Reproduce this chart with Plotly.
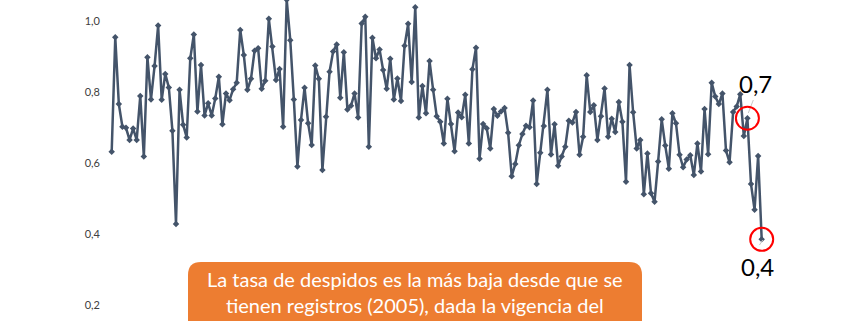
import plotly.graph_objects as go
import pandas as pd

# monthly dismissal rate (%), Apr 2005 - Jun 2020
months = [d.strftime("%b %Y") for d in pd.date_range("2005-04-01", periods=183, freq="MS")]
rate = [
    0.632, 0.954, 0.766, 0.702, 0.699, 0.665, 0.697, 0.665, 0.789, 0.618, 0.898, 0.779, 0.873, 0.987, 0.778, 0.851,
    0.813, 0.691, 0.428, 0.806, 0.708, 0.672, 0.895, 0.962, 0.745, 0.876, 0.734, 0.768, 0.734, 0.782, 0.843,
    0.709, 0.796, 0.777, 0.808, 0.826, 0.975, 0.904, 0.806, 0.837, 0.916, 0.923, 0.809, 0.832, 1.006, 0.928, 0.834,
    0.865, 0.702, 1.060, 0.946, 0.779, 0.590, 0.721, 0.812, 0.712, 0.651, 0.875, 0.837, 0.580, 0.730, 0.857, 0.914,
    0.934, 0.784, 0.912, 0.751,
    0.761, 0.796, 0.728, 0.993, 1.012, 0.646, 0.953, 0.895, 0.920, 0.862, 0.809, 0.894, 0.779, 0.838, 0.775, 0.930,
    0.992, 0.828, 1.039, 0.728, 0.817, 0.740, 0.887, 0.806, 0.732, 0.716, 0.655, 0.781, 0.710, 0.633, 0.742, 0.729,
    0.792, 0.655, 0.864, 0.925, 0.612,
    0.710, 0.698, 0.641, 0.752, 0.733, 0.745, 0.755, 0.685, 0.563, 0.597, 0.650, 0.682, 0.705, 0.701, 0.776, 0.541,
    0.629, 0.704, 0.806, 0.624, 0.709, 0.592, 0.618, 0.646, 0.719, 0.714, 0.744, 0.623, 0.674, 0.847, 0.744, 0.763,
    0.665, 0.732, 0.810, 0.674,
    0.725, 0.687, 0.772, 0.716, 0.547, 0.876, 0.743, 0.641, 0.665, 0.512, 0.627, 0.515, 0.491, 0.604, 0.723, 0.649,
    0.584, 0.740, 0.712, 0.623, 0.588, 0.610, 0.622, 0.566, 0.655, 0.576, 0.752, 0.625, 0.826, 0.787, 0.766, 0.796,
    0.635, 0.602, 0.744, 0.759, 0.794, 0.676, 0.726, 0.541, 0.468, 0.620, 0.385,
]
highlight_idx = [178, 182]
highlight_labels = ["0,7", "0,4"]
y_ticks = [0.2, 0.4, 0.6, 0.8, 1.0]
note_text = "La tasa de despidos es la más baja desde que se<br>tienen registros (2005), dada la vigencia del"

W, H = 845, 321
L, R, T, B = 105, 0, 0, 0
PW, PH = W - L - R, H - T - B


def px(x):
    return (x - L) / PW


def py(y):
    return (H - B - y) / PH


fig = go.Figure()
fig.add_trace(go.Scatter(
    x=months, y=rate, mode="lines+markers",
    line=dict(color="#44546A", width=2.5),
    marker=dict(symbol="diamond", size=5, color="#44546A"),
    cliponaxis=True, hoverinfo="x+y",
))

shapes = []
# faint leader lines from labels to points
for (xa, ya, xb, yb) in [(753.3, 100, 748.3, 113), (762.7, 240, 759.5, 245)]:
    shapes.append(dict(type="line", xref="paper", yref="paper", x0=px(xa), y0=py(ya), x1=px(xb), y1=py(yb),
                       line=dict(color="#C8C8C8", width=1)))
# highlight circles around data points
for i in highlight_idx:
    shapes.append(dict(type="circle", xref="x", yref="y", xsizemode="pixel", ysizemode="pixel",
                       xanchor=i, yanchor=rate[i], x0=-11.5, x1=11.5, y0=-11.5, y1=11.5,
                       line=dict(color="#FF0000", width=2)))

# orange rounded box
bx0, bx1, by0, by1, r = 188, 642, 262, 360, 13
path = (f"M {px(bx0)},{py(by0 + r)} Q {px(bx0)},{py(by0)} {px(bx0 + r)},{py(by0)} "
        f"L {px(bx1 - r)},{py(by0)} Q {px(bx1)},{py(by0)} {px(bx1)},{py(by0 + r)} "
        f"L {px(bx1)},{py(by1)} L {px(bx0)},{py(by1)} Z")
shapes.append(dict(type="path", xref="paper", yref="paper", path=path,
                   fillcolor="#ED7D31", line=dict(width=0), layer="above"))

annotations = [
    dict(text=note_text, xref="paper", yref="paper", x=px(415), y=py(265), xanchor="center", yanchor="top",
         showarrow=False, align="center", font=dict(family="Lato", size=20, color="white")),
    dict(text=highlight_labels[0], xref="paper", yref="paper", x=px(755), y=py(83), xanchor="center",
         yanchor="middle", showarrow=False, font=dict(family="Lato", size=24, color="#000000")),
    dict(text=highlight_labels[1], xref="paper", yref="paper", x=px(757.5), y=py(266), xanchor="center",
         yanchor="middle", showarrow=False, font=dict(family="Lato", size=24, color="#000000")),
]

y_top = 1 + 21 / 355
y_bot = 1 - 300 / 355
scale = 650 / 182
xmin = -6.7 / scale
xmax = xmin + PW / scale

fig.update_layout(
    width=W, height=H, margin=dict(l=L, r=R, t=T, b=B),
    paper_bgcolor="white", plot_bgcolor="white",
    separators=",.", showlegend=False,
    shapes=shapes, annotations=annotations,
    xaxis=dict(type="category", range=[xmin, xmax], visible=False),
    yaxis=dict(range=[y_bot, y_top], tickvals=y_ticks, tickformat=".1f", showgrid=False, zeroline=False,
               showline=False, ticks="", ticklabelstandoff=4,
               tickfont=dict(family="Lato", size=11, color="#404040")),
    font=dict(family="Lato"),
)

fig.write_html("out.html")
